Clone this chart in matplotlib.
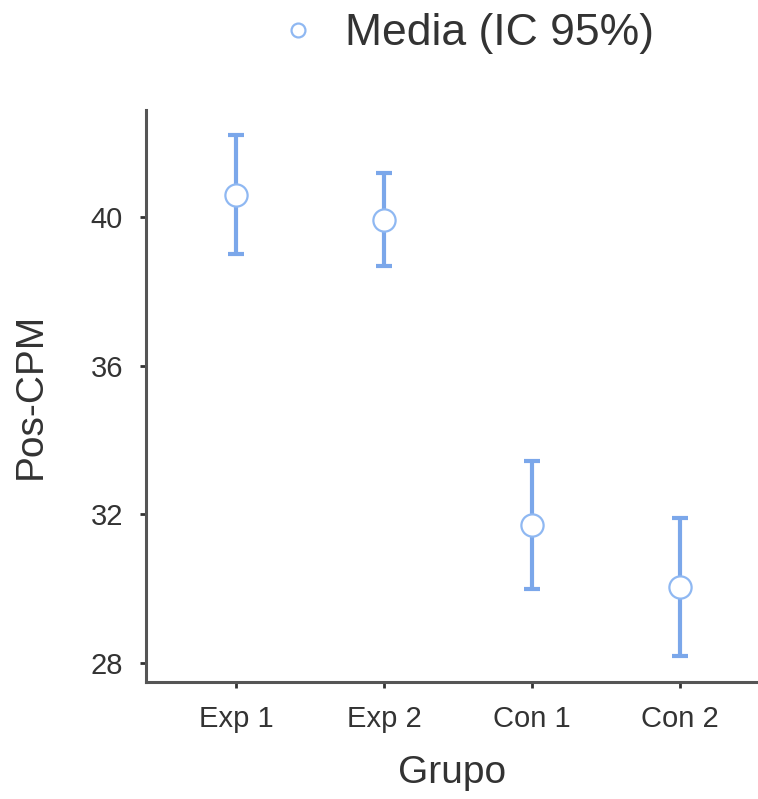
import matplotlib.pyplot as plt
from matplotlib.lines import Line2D

plt.rcParams["font.family"] = ["Liberation Sans", "DejaVu Sans"]

# group means and 95% CI bounds
groups = ["Exp 1", "Exp 2", "Con 1", "Con 2"]
means = [40.59, 39.92, 31.71, 30.05]
ci_low = [39.00, 38.68, 30.00, 28.20]
ci_high = [42.22, 41.18, 33.44, 31.90]
yticks = [28, 32, 36, 40]

BLUE = "#7ba7ea"
EDGE = "#8fb8f2"
GREY = "#555555"
TEXT = "#333333"

fig = plt.figure(figsize=(7.58, 7.99), dpi=100)
ax = fig.add_axes([146 / 758, 117 / 799, 612 / 758, 572 / 799])

x = list(range(len(groups)))
err = [
    [m - lo for m, lo in zip(means, ci_low)],
    [hi - m for m, hi in zip(means, ci_high)],
]
ax.errorbar(x, means, yerr=err, fmt="none", ecolor=BLUE, elinewidth=3,
            capsize=6, capthick=3, zorder=2)
ax.plot(x, means, "o", ms=16, mfc="white", mec=EDGE, mew=1.6, zorder=3)

ax.set_xlim(-0.608, 3.527)
ax.set_ylim(27.49, 42.88)
ax.set_xticks(x)
ax.set_xticklabels(groups)
ax.set_yticks(yticks)

for side in ["top", "right"]:
    ax.spines[side].set_visible(False)
for side in ["left", "bottom"]:
    ax.spines[side].set_color(GREY)
    ax.spines[side].set_linewidth(2.2)

ax.tick_params(axis="both", length=4.5, width=2, color="#333333",
               labelsize=21, labelcolor=TEXT, pad=12)

ax.set_xlabel("Grupo", fontsize=28, color=TEXT, labelpad=16)
ax.set_ylabel("Pos-CPM", fontsize=28, color=TEXT, labelpad=30)

handle = Line2D([], [], marker="o", ls="none", ms=10, mfc="white",
                mec=EDGE, mew=1.6)
fig.legend([handle], ["Media (IC 95%)"], loc="center",
           bbox_to_anchor=(0.619, 0.958), frameon=False, fontsize=32,
           labelcolor=TEXT, handlelength=0.6, handletextpad=0.75)

fig.savefig("out.png", dpi=100)
